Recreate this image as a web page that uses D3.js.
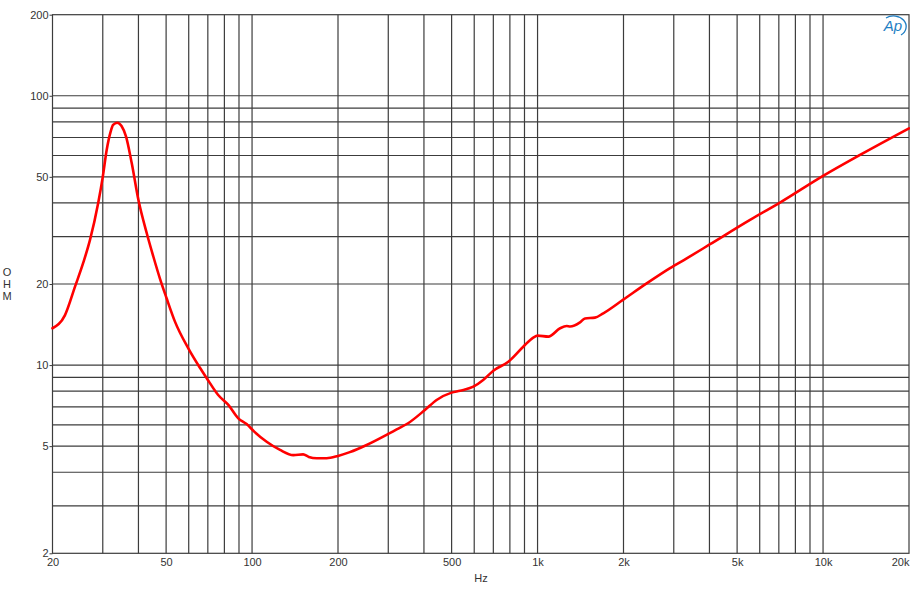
<!DOCTYPE html>
<html>
<head>
<meta charset="utf-8">
<script src="https://cdn.jsdelivr.net/npm/d3@7"></script>
<style>
  html, body { margin: 0; padding: 0; background: #fff; }
  svg { display: block; font-family: "Liberation Sans", Arial, sans-serif; }
</style>
</head>
<body>
<svg id="chart" width="910" height="600"></svg>
<script>
// ---- data ----
const freqHz = [20, 22.1, 24, 25.6, 27.05, 28.9, 30, 30.96, 31.97, 32.6, 33.7, 34.9, 36.2, 37.9, 40, 42.8, 45.1, 47.6, 50.2, 53.7, 59.8, 65.7, 70.3, 76.1, 82.6, 89.5, 95.7, 101.8, 112.5, 125.3, 139.5, 151, 158, 168.5, 182.6, 200, 220, 252, 300, 321, 352, 403, 443, 500, 535, 596, 645, 700, 790, 891, 966, 1000, 1091, 1199, 1265, 1300, 1408, 1466, 1589, 1699, 1996, 2411, 2911, 3330, 4020, 5550, 7065, 10000, 13470, 20000];
const impedanceOhm = [13.7, 15.3, 19.6, 23.9, 29.1, 39.9, 50, 62.9, 73.6, 77.9, 79.4, 77.2, 70.5, 56.1, 41, 30.8, 25.3, 20.9, 17.7, 14.5, 11.54, 9.77, 8.75, 7.74, 7.11, 6.34, 6.04, 5.66, 5.19, 4.84, 4.63, 4.66, 4.56, 4.51, 4.51, 4.6, 4.75, 5.05, 5.55, 5.77, 6.08, 6.81, 7.42, 7.9, 8.03, 8.31, 8.8, 9.53, 10.29, 11.7, 12.64, 12.86, 12.75, 13.7, 13.96, 13.9, 14.4, 14.9, 15.0, 15.57, 17.5, 20.1, 22.9, 24.9, 28.1, 34.6, 40.1, 50.4, 60.3, 75.7];

const xTickValues = [20, 50, 100, 200, 500, 1000, 2000, 5000, 10000, 20000];
const xTickLabels = ["20", "50", "100", "200", "500", "1k", "2k", "5k", "10k", "20k"];
const yTickValues = [2, 5, 10, 20, 50, 100, 200];
const yTickLabels = ["2", "5", "10", "20", "50", "100", "200"];
const xGridValues = [30, 40, 50, 60, 70, 80, 90, 100, 200, 300, 400, 500, 600, 700, 800, 900, 1000, 2000, 3000, 4000, 5000, 6000, 7000, 8000, 9000, 10000];
const yGridValues = [3, 4, 5, 6, 7, 8, 9, 10, 20, 30, 40, 50, 60, 70, 80, 90, 100];
const xAxisTitle = "Hz";
const yAxisTitle = ["O", "H", "M"];

// ---- layout ----
const svg = d3.select("#chart");
const L = 52.5, R = 909, T = 14.7, B = 553.3;

const x = d3.scaleLog().domain([20, 20000]).range([L, R]);
const y = d3.scaleLog().domain([2, 200]).range([B, T]);

const gridColor = "#3c3c3c";
const textColor = "#333";

// grid
const g = svg.append("g");
g.selectAll("line.vx").data(xGridValues).enter().append("line")
  .attr("x1", d => x(d)).attr("x2", d => x(d))
  .attr("y1", T).attr("y2", B)
  .attr("stroke", gridColor).attr("stroke-width", 1.2);
g.selectAll("line.hy").data(yGridValues).enter().append("line")
  .attr("x1", L).attr("x2", R)
  .attr("y1", d => y(d)).attr("y2", d => y(d))
  .attr("stroke", gridColor).attr("stroke-width", 1.2);

// frame
g.append("rect").attr("x", L).attr("y", T).attr("width", R - L).attr("height", B - T)
  .attr("fill", "none").attr("stroke", gridColor).attr("stroke-width", 1.2);

// y axis ticks and labels
const yAxis = d3.axisLeft(y).tickValues(yTickValues)
  .tickFormat((d, i) => yTickLabels[i]).tickSize(3).tickPadding(1);
const ya = svg.append("g").attr("transform", `translate(${L},0)`).call(yAxis);
ya.select(".domain").remove();
ya.selectAll("line").attr("stroke", gridColor);
ya.selectAll("text").attr("fill", textColor).attr("font-size", 11)
  .attr("font-family", "'Liberation Sans', Arial, sans-serif");

// x axis labels
const xAxis = d3.axisBottom(x).tickValues(xTickValues)
  .tickFormat((d, i) => xTickLabels[i]).tickSize(0).tickPadding(5);
const xa = svg.append("g").attr("transform", `translate(0,${B})`).call(xAxis);
xa.select(".domain").remove();
xa.selectAll("text").attr("fill", textColor).attr("font-size", 11)
  .attr("font-family", "'Liberation Sans', Arial, sans-serif")
  .attr("text-anchor", d => d === 20000 ? "end" : "middle")
  .attr("dx", d => d === 20000 ? "0" : "0");

// axis titles
svg.append("text").attr("x", 481).attr("y", 582).attr("text-anchor", "middle")
  .attr("font-size", 11).attr("fill", textColor).text(xAxisTitle);
svg.selectAll("text.ytitle").data(yAxisTitle).enter().append("text")
  .attr("x", 7).attr("y", (d, i) => 276 + i * 12).attr("text-anchor", "middle")
  .attr("font-size", 11).attr("fill", textColor).text(d => d);

// curve
const line = d3.line().x((d, i) => x(freqHz[i])).y(d => y(d)).curve(d3.curveMonotoneX);
svg.append("path").datum(impedanceOhm)
  .attr("d", line)
  .attr("fill", "none").attr("stroke", "#ff0000").attr("stroke-width", 2.6)
  .attr("stroke-linejoin", "round").attr("stroke-linecap", "round");

// AP logo
const logo = svg.append("g").attr("transform", "translate(895,26)");
logo.append("path")
  .attr("d", "M -9 -8 A 12 10 0 0 1 6 9")
  .attr("fill", "none").attr("stroke", "#1f7fc4").attr("stroke-width", 1.3);
logo.append("text").attr("x", -2).attr("y", 5).attr("text-anchor", "middle")
  .attr("font-size", 15).attr("font-style", "italic").attr("fill", "#1f7fc4")
  .attr("font-family", "'Liberation Sans', Arial, sans-serif").text("Ap");
</script>
</body>
</html>
